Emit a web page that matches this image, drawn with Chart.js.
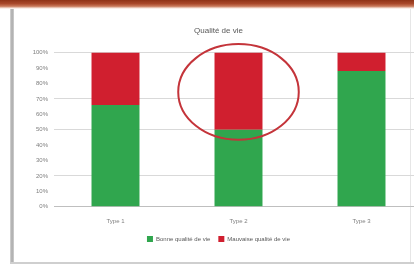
<!DOCTYPE html>
<html><head><meta charset="utf-8">
<script src="https://cdn.jsdelivr.net/npm/chart.js@4/dist/chart.umd.min.js"></script>
<style>
html,body{margin:0;padding:0;background:#fff;width:414px;height:266px;overflow:hidden;position:relative;}
#band{position:absolute;left:0;top:0;width:414px;height:9px;background:linear-gradient(#8f3317,#a9482a 40%,#c97a5c 70%,#f5e0d6 90%,#fff);}
#lb{position:absolute;left:10px;top:9px;width:4px;height:255px;background:linear-gradient(90deg,#d8d8d8,#a9a9a9,#d0d0d0);}
#bb{position:absolute;left:10px;top:262px;width:404px;height:2px;background:#cfcfcf;}
#rb{position:absolute;left:410px;top:9px;width:1px;height:255px;background:#e6e6e6;}
#wrap{position:absolute;left:14px;top:8px;width:430px;height:254px;}
</style></head>
<body>
<div id="band"></div><div id="lb"></div><div id="rb"></div><div id="bb"></div>
<div id="wrap"><canvas id="c" width="430" height="254"></canvas></div>
<script>
const categories = ["Type 1", "Type 2", "Type 3"];
const seriesNames = ["Bonne qualité de vie", "Mauvaise qualité de vie"];
const goodValues = [0.66, 0.50, 0.88];
const badValues = [0.34, 0.50, 0.12];
const yTicks = [0,0.1,0.2,0.3,0.4,0.5,0.6,0.7,0.8,0.9,1.0];
const visibleGrid = [0,0.2,0.5,0.7,1.0];
const highlightCategory = 1;
const highlightValue = 0.745;

const ellipsePlugin = {
  id:'ellipse',
  afterDatasetsDraw(chart){
    const xs = chart.scales.x, ys = chart.scales.y, ctx = chart.ctx;
    const cx = xs.getPixelForValue(highlightCategory);
    const cy = ys.getPixelForValue(highlightValue);
    const rx = (xs.getPixelForValue(1) - xs.getPixelForValue(0)) * 0.49;
    const ry = Math.abs(ys.getPixelForValue(0) - ys.getPixelForValue(0.31));
    ctx.save();
    ctx.beginPath();
    ctx.ellipse(cx, cy, rx, ry, 0, 0, Math.PI*2);
    ctx.strokeStyle = '#c4343a';
    ctx.lineWidth = 2;
    ctx.stroke();
    ctx.restore();
  }
};

new Chart(document.getElementById('c'), {
  type:'bar',
  data:{
    labels: categories,
    datasets:[
      {label: seriesNames[0], data: goodValues, backgroundColor:'#30a64e', barPercentage:0.78, categoryPercentage:0.5},
      {label: seriesNames[1], data: badValues, backgroundColor:'#d01f2f', barPercentage:0.78, categoryPercentage:0.5}
    ]
  },
  options:{
    responsive:false, animation:false,
    layout:{padding:{left:0,right:21,top:0,bottom:10}},
    plugins:{
      title:{display:true, text:'Qualité de vie', color:'#595959', font:{family:'Liberation Sans', size:8, weight:'normal'}, padding:{top:18,bottom:17}},
      legend:{position:'bottom', labels:{boxWidth:6, boxHeight:6, padding:8, color:'#595959', font:{family:'Liberation Sans', size:6}}},
      tooltip:{enabled:false}
    },
    scales:{
      x:{stacked:true, grid:{display:false}, border:{color:'#bfbfbf'},
         ticks:{color:'#7f7f7f', font:{family:'Liberation Sans', size:6}, padding:3}},
      y:{stacked:true, min:0, max:1,
         afterBuildTicks(s){ s.ticks = yTicks.map(v=>({value:v})); },
         afterFit(s){ s.width = 40; },
         grid:{color:(c)=> visibleGrid.some(v=>Math.abs(v-c.tick.value)<1e-6) ? '#d9d9d9' : 'rgba(0,0,0,0)', drawTicks:false},
         border:{display:false},
         ticks:{color:'#7f7f7f', font:{family:'Liberation Sans', size:6}, padding:6,
                callback:(v)=> Math.round(v*100)+'%'}}
    }
  },
  plugins:[ellipsePlugin]
});
</script>
</body></html>
